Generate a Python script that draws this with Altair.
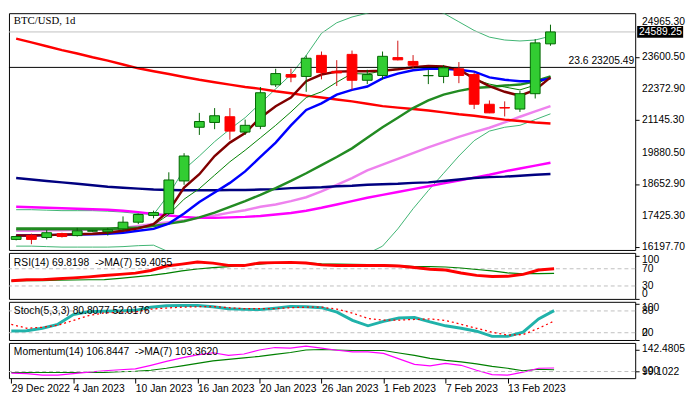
import altair as alt
import pandas as pd

# ---------------- data ----------------
date_labels = ["29 Dec 2022", "4 Jan 2023", "10 Jan 2023", "16 Jan 2023", "20 Jan 2023",
               "26 Jan 2023", "1 Feb 2023", "7 Feb 2023", "13 Feb 2023"]
label_bars = [0, 4, 8, 12, 16, 20, 24, 28, 32]
price_ticks = [24965.30, 23600.50, 22372.90, 21145.30, 19880.50, 18652.90, 17425.30, 16197.70]

opens = [16497, 16646, 16571, 16721, 16646, 16815, 16796, 16908, 17169, 17431, 17506, 18777,
         20871, 21058, 21282, 20684, 20908, 22527, 22927, 22853, 23675, 23052, 23713, 22703,
         22890, 23589, 23438, 22880, 22853, 23152, 22927, 21768, 21640, 21581, 22180, 24124]
highs = [16646, 16721, 16870, 16758, 16945, 16870, 16945, 17394, 17506, 17618, 19114, 19861,
         21432, 21619, 21619, 21170, 22441, 23152, 23152, 23675, 23825, 23488, 23862, 23114,
         23825, 24247, 23686, 23114, 23301, 23414, 23002, 21918, 21881, 22292, 24311, 24872]
lows = [16459, 16310, 16497, 16571, 16609, 16796, 16646, 16833, 17095, 17319, 17468, 18627,
        20572, 20796, 20385, 20572, 20796, 22441, 22628, 22254, 22740, 22479, 22329, 22554,
        22740, 23478, 23189, 22554, 22591, 22591, 21581, 21420, 21293, 21469, 21993, 24049]
closes = [16609, 16497, 16758, 16609, 16833, 16840, 16870, 17169, 17468, 17543, 18815, 19749,
          21095, 21320, 20721, 20946, 22217, 22965, 22826, 23563, 23002, 22990, 22703, 22927,
          23638, 23500, 23289, 22890, 23189, 22890, 21768, 21432, 21620, 22180, 24161, 24589.25]

ma_red = [24330, 24180, 24030, 23881, 23750, 23600, 23470, 23320, 23170, 23058, 22946, 22834,
          22722, 22628, 22535, 22441, 22367, 22273, 22198, 22105, 22030, 21955, 21881, 21787,
          21694, 21638, 21581, 21525, 21451, 21376, 21320, 21245, 21170, 21114, 21058, 21021]
ma_navy = [18889, 18833, 18777, 18721, 18665, 18609, 18553, 18515, 18478, 18441, 18422, 18415,
           18415, 18415, 18422, 18422, 18441, 18459, 18497, 18515, 18534, 18572, 18590, 18628,
           18646, 18665, 18702, 18721, 18777, 18833, 18889, 18927, 18945, 18983, 19020, 19050]
ma_magenta = [17768, 17749, 17730, 17712, 17693, 17674, 17656, 17618, 17562, 17487, 17431, 17375,
              17338, 17338, 17356, 17375, 17412, 17469, 17525, 17618, 17730, 17861, 17992, 18123,
              18235, 18347, 18459, 18572, 18684, 18796, 18908, 19020, 19151, 19263, 19375, 19488]
ma_violet = [16833, 16833, 16852, 16852, 16870, 16870, 16889, 16945, 17020, 17095, 17169, 17244,
             17338, 17431, 17543, 17637, 17768, 17861, 17992, 18142, 18366, 18628, 18889, 19188,
             19413, 19637, 19861, 20086, 20291, 20497, 20684, 20852, 21058, 21282, 21488, 21694]
ma_green = [16926, 16926, 16926, 16926, 16926, 16926, 16926, 16945, 16964, 17020, 17113, 17207,
            17356, 17543, 17768, 17992, 18235, 18497, 18777, 19076, 19394, 19712, 20048, 20460,
            20871, 21245, 21619, 21918, 22142, 22292, 22404, 22441, 22497, 22535, 22666, 22853]
ma_thin = [16870, 16870, 16870, 16870, 16870, 16870, 16870, 16870, 16945, 17057, 17469, 18067,
           18478, 19002, 19525, 19974, 20460, 20946, 21469, 22030, 22254, 22628, 22965, 22946,
           23077, 23152, 23189, 23189, 23189, 23114, 22741, 22554, 22441, 22329, 22516, 22853]
ma_maroon = [16646, 16646, 16665, 16683, 16702, 16721, 16758, 16833, 16926, 17095, 17618, 18515,
             19039, 19749, 20273, 20647, 21245, 21694, 22030, 22666, 22928, 23040, 23058, 23058,
             23077, 23133, 23208, 23264, 23245, 23114, 22778, 22479, 22254, 22105, 22329, 22815]
ma_blue = [16646, 16646, 16665, 16683, 16683, 16702, 16721, 16758, 16833, 16908, 17113, 17506,
           17955, 18329, 18702, 19151, 19712, 20273, 20946, 21544, 21806, 22142, 22329, 22460,
           22778, 22965, 23096, 23152, 23152, 23114, 23040, 22815, 22722, 22666, 22666, 22778]
bb_upper = [17656, 17656, 17637, 17618, 17618, 17618, 17599, 17562, 17506, 17469, 18254, 19226,
            19749, 20310, 20796, 21245, 21806, 22367, 22928, 23675, 24535, 24947, 25171, 25320,
            25507, 25582, 25582, 25507, 25320, 24984, 24647, 24386, 24274, 24236, 24274, 24423]
bb_lower = [16235, 16235, 16216, 16197, 16197, 16197, 16197, 16216, 16253, 16272, 16010, 15524,
            14963, 14590, 14403, 14216, 14216, 14290, 14403, 14590, 14889, 15263, 15636, 15936,
            16235, 16908, 17693, 18403, 19076, 19749, 20348, 20721, 20871, 20946, 21170, 21395]

fib_level = 23205.49
bid_price = 24589.25

rsi = [42.1, 44.4, 44.8, 46.7, 48.9, 51.2, 54.2, 56.9, 59.9, 66.0, 76.3, 80.8, 85.8, 83.1, 77.8,
       77.4, 83.5, 84.2, 84.9, 83.5, 79.0, 77.4, 77.4, 77.4, 77.4, 76.3, 72.8, 69.0, 67.2, 60.3,
       54.6, 51.9, 52.4, 56.9, 67.2, 69.8198]
rsi_ma = [41.7, 42.1, 42.6, 43.3, 43.9, 44.4, 44.8, 47.8, 51.2, 54.6, 59.2, 64.9, 69.4, 72.8, 75.1,
          78.5, 80.8, 84.2, 84.2, 83.5, 81.3, 80.8, 80.1, 79.7, 78.5, 77.4, 75.1, 75.1, 74.0, 71.7,
          68.3, 64.9, 60.3, 58.5, 58.5, 59.4055]
stoch_k = [25.0, 25.6, 32.3, 43.1, 70.0, 78.1, 78.9, 80.0, 81.6, 90.2, 94.2, 95.0, 94.8, 91.5, 86.2,
           84.3, 83.5, 87.5, 92.4, 91.5, 88.9, 76.7, 53.9, 39.0, 51.2, 60.6, 61.9, 49.8, 39.0, 32.3,
           24.2, 10.0, 10.0, 21.5, 58.0, 80.8077]
stoch_d = [43.1, 32.3, 35.0, 40.4, 53.9, 67.3, 74.6, 76.2, 77.3, 84.8, 88.0, 90.2, 91.5, 92.1, 88.9,
           86.2, 86.2, 86.2, 88.9, 90.2, 90.2, 84.8, 74.0, 59.2, 54.7, 54.7, 56.5, 57.9, 53.9, 43.1,
           32.3, 21.5, 13.5, 14.8, 32.3, 52.0176]
momentum = [96.8, 95.8, 93.0, 93.0, 95.8, 99.0, 101.5, 103.4, 105.0, 112.0, 119.6, 126.3, 132.0,
            136.2, 131.1, 133.9, 141.5, 146.3, 145.3, 149.1, 145.3, 141.1, 138.1, 138.1, 134.9,
            124.4, 113.9, 111.0, 115.8, 112.0, 102.5, 93.9, 93.0, 98.7, 106.3, 106.8447]
momentum_ma = [98.1, 98.1, 98.1, 98.1, 98.1, 98.1, 98.1, 99.6, 100.6, 102.5, 106.3, 111.0, 115.8,
               120.6, 123.4, 126.3, 129.1, 133.0, 136.8, 141.5, 142.5, 141.5, 140.6, 140.6, 140.6,
               135.8, 131.1, 125.3, 121.5, 118.7, 114.9, 110.1, 106.3, 101.5, 104.4, 103.362]

# ---------------- layout / style ----------------
N = len(closes)
idx = list(range(N))
W = 640
FONT = "Liberation Sans"
FS = 10.5
XS = alt.Scale(domain=[-0.15, 40.23], nice=False, zero=False)
one = pd.DataFrame({"z": [0]})


def X(axis=None):
    return alt.X("i:Q", scale=XS, axis=axis)


def line(df, col, scale, axis, color, w, dash=None, xaxis=None):
    kw = dict(color=color, strokeWidth=w, clip=True)
    if dash is not None:
        kw["strokeDash"] = dash
    return alt.Chart(df).mark_line(**kw).encode(
        x=X(xaxis), y=alt.Y(f"{col}:Q", scale=scale, axis=axis))


def hrule(v, color, w=1, dash=None):
    kw = dict(color=color, strokeWidth=w)
    if dash is not None:
        kw["strokeDash"] = dash
    return alt.Chart(one).mark_rule(**kw).encode(y=alt.datum(v))


def side_label(v, txt, dy=0, color="black", xpos=None):
    return alt.Chart(one).mark_text(align="left", baseline="middle", dy=dy, font=FONT,
                                    fontSize=FS, color=color).encode(
        x=alt.value(W + 7 if xpos is None else xpos), y=alt.datum(v), text=alt.value(txt))


def corner_text(txt, yv, font=FONT, size=FS):
    return alt.Chart(one).mark_text(align="left", baseline="middle", font=font,
                                    fontSize=size, color="black").encode(
        x=alt.value(5), y=alt.value(yv), text=alt.value(txt))


# ---------------- main panel ----------------
main_df = pd.DataFrame(dict(i=idx, open=opens, high=highs, low=lows, close=closes,
                            red=ma_red, navy=ma_navy, magenta=ma_magenta, violet=ma_violet,
                            green=ma_green, thin=ma_thin, maroon=ma_maroon, blue=ma_blue,
                            bbu=bb_upper, bbl=bb_lower))
ys_main = alt.Scale(domain=[16085, 25320], nice=False, zero=False)
ax_main = alt.Axis(orient="right", values=price_ticks, labels=False, title=None, domain=False,
                   grid=False, tickSize=4, tickColor="black")

up = "datum.close >= datum.open"
wicks = alt.Chart(main_df).mark_rule(strokeWidth=1).encode(
    x=X(), y=alt.Y("low:Q", scale=ys_main, axis=ax_main), y2="high:Q",
    color=alt.condition(up, alt.value("#006400"), alt.value("#D01010")))
bodies = alt.Chart(main_df).mark_bar(size=10, strokeWidth=1).encode(
    x=X(), y=alt.Y("open:Q", scale=ys_main, axis=ax_main), y2="close:Q",
    fill=alt.condition(up, alt.value("#32CD32"), alt.value("#FF0000")),
    stroke=alt.condition(up, alt.value("#006400"), alt.value("#FF0000")))

tag_box = alt.Chart(one).mark_rule(color="black", strokeWidth=12).encode(
    x=alt.value(W + 2), x2=alt.value(W + 49), y=alt.datum(bid_price))
fib_txt = alt.Chart(one).mark_text(align="right", baseline="bottom", dy=-1, font=FONT,
                                   fontSize=FS, color="black").encode(
    x=alt.value(W - 1), y=alt.datum(fib_level), text=alt.value("23.6 23205.49"))

price_labels = [side_label(p, f"{p:.2f}") for p in price_ticks]

main = alt.layer(
    line(main_df, "bbu", ys_main, ax_main, "#3CB371", 1),
    line(main_df, "bbl", ys_main, ax_main, "#3CB371", 1),
    line(main_df, "violet", ys_main, ax_main, "#EE82EE", 2.5),
    line(main_df, "magenta", ys_main, ax_main, "#FF00FF", 2.5),
    line(main_df, "navy", ys_main, ax_main, "#000080", 2.5),
    line(main_df, "red", ys_main, ax_main, "#FF0000", 2.5),
    line(main_df, "green", ys_main, ax_main, "#228B22", 2.5),
    line(main_df, "thin", ys_main, ax_main, "#008000", 1),
    line(main_df, "blue", ys_main, ax_main, "#0000FF", 2.5),
    line(main_df, "maroon", ys_main, ax_main, "#800000", 2.5),
    hrule(bid_price, "#C0C0C0", 1),
    hrule(fib_level, "black", 1),
    wicks, bodies,
    fib_txt,
    *price_labels,
    tag_box,
    side_label(bid_price, "24589.25", color="white", xpos=W + 4),
    corner_text("BTC/USD, 1d", 8, font="Liberation Serif", size=11),
).properties(width=W, height=242)

# ---------------- RSI ----------------
rsi_df = pd.DataFrame(dict(i=idx, rsi=rsi, ma=rsi_ma))
ys_rsi = alt.Scale(domain=[0, 106.8], nice=False, zero=False)
ax_rsi = alt.Axis(orient="right", values=[0, 30, 70, 100], labels=False, title=None,
                  domain=False, grid=False, tickSize=4, tickColor="black")
rsi_panel = alt.layer(
    hrule(70, "#BEBEBE", 1, [4, 3]),
    hrule(30, "#BEBEBE", 1, [4, 3]),
    line(rsi_df, "ma", ys_rsi, ax_rsi, "#008000", 1.2),
    line(rsi_df, "rsi", ys_rsi, ax_rsi, "#FF0000", 3),
    side_label(100, "100", 4), side_label(70, "70"), side_label(30, "30"),
    side_label(0, "0", -5),
    corner_text("RSI(14) 69.8198\u00a0 ->MA(7) 59.4055", 10),
).properties(width=W, height=47)

# ---------------- Stochastic ----------------
st_df = pd.DataFrame(dict(i=idx, k=stoch_k, d=stoch_d))
ys_st = alt.Scale(domain=[0, 105], nice=False, zero=False)
ax_st = alt.Axis(orient="right", values=[0, 20, 80, 100], labels=False, title=None,
                 domain=False, grid=False, tickSize=4, tickColor="black")
st_panel = alt.layer(
    hrule(80, "#BEBEBE", 1, [4, 3]),
    hrule(20, "#BEBEBE", 1, [4, 3]),
    line(st_df, "k", ys_st, ax_st, "#20B2AA", 3),
    line(st_df, "d", ys_st, ax_st, "#FF0000", 1.3, [2, 3]),
    side_label(100, "100", 5), side_label(80, "80"), side_label(20, "20"),
    side_label(0, "0", -7),
    corner_text("Stoch(5,3,3) 80.8077 52.0176", 9),
).properties(width=W, height=39)

# ---------------- Momentum ----------------
mo_df = pd.DataFrame(dict(i=idx, m=momentum, ma=momentum_ma))
ys_mo = alt.Scale(domain=[87.2, 155.2], nice=False, zero=False)
ax_mo = alt.Axis(orient="right", values=[142.4805, 100], labels=False, title=None,
                 domain=False, grid=False, tickSize=4, tickColor="black")
lab_js = "[" + ",".join(f"'{d}'" for d in date_labels) + "]"
ax_x = alt.Axis(orient="bottom", values=label_bars, labelExpr=f"{lab_js}[round(datum.value/4)]",
                labelAlign="left", labelPadding=1, tickSize=5, tickColor="black", domain=False,
                grid=False, title=None, labelFont=FONT, labelFontSize=FS, labelColor="black",
                labelOverlap=False, labelFlush=False, labelBound=False)
mo_panel = alt.layer(
    line(mo_df, "ma", ys_mo, ax_mo, "#008000", 1.2, xaxis=ax_x),
    line(mo_df, "m", ys_mo, ax_mo, "#FF00FF", 1.2, xaxis=ax_x),
    hrule(100, "#BEBEBE", 1, [4, 3]),
    side_label(142.4805, "142.4805"), side_label(100, "100"), side_label(99.1022, "99.1022"),
    corner_text("Momentum(14) 106.8447\u00a0 ->MA(7) 103.3620", 9),
).properties(width=W, height=36)

chart = alt.vconcat(main, rsi_panel, st_panel, mo_panel, spacing=3, bounds="flush").properties(
    padding=0, background="white"
).configure_view(stroke="black", strokeWidth=1).configure_axis(labelOverlap=False)

chart.save("out.html", embed_options={"renderer": "svg", "actions": False})
